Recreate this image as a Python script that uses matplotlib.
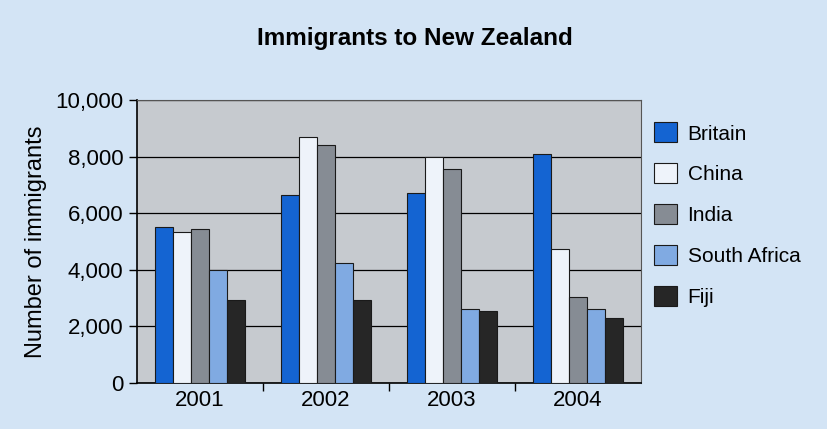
import numpy as np
import matplotlib
matplotlib.use('Agg')
from matplotlib import pyplot as plt

years = ['2001', '2002', '2003', '2004']
countries = ['Britain', 'China', 'India', 'South Africa', 'Fiji']
britain = [5500, 6650, 6700, 8100]
china = [5350, 8700, 8000, 4750]
india = [5450, 8400, 7550, 3050]
south_africa = [4000, 4250, 2600, 2600]
fiji = [2950, 2950, 2550, 2300]
series = [britain, china, india, south_africa, fiji]
colors = ['#1464d2', '#eef3fa', '#868c94', '#80aae2', '#262626']

plt.rcParams['font.family'] = ['Liberation Sans', 'DejaVu Sans']

fig = plt.figure(figsize=(8.28, 4.29), dpi=100)
fig.patch.set_facecolor('#d3e4f5')
ax = fig.add_axes([0.1655, 0.107, 0.6085, 0.66])
ax.set_facecolor('#c6cacf')

x = np.arange(len(years))
w = 0.144
for i, (vals, c) in enumerate(zip(series, colors)):
    ax.bar(x + (i - 2) * w, vals, w, color=c, edgecolor='#1a1a1a', linewidth=0.8,
           label=countries[i], zorder=3)

ax.set_xlim(-0.5, 3.5)
ax.set_ylim(0, 10000)
ax.set_yticks(range(0, 10001, 2000))
ax.set_yticklabels(['{:,}'.format(v) for v in range(0, 10001, 2000)], fontsize=16)
ax.yaxis.grid(True, color='black', linewidth=0.9, zorder=1)
ax.set_axisbelow(True)

# year labels in the middle, tick marks between the groups
ax.set_xticks(x)
ax.set_xticklabels(years, fontsize=16)
ax.tick_params(axis='x', length=0, pad=5)
ax.set_xticks([0.5, 1.5, 2.5], minor=True)
ax.tick_params(axis='x', which='minor', length=6, width=1, direction='out')
ax.tick_params(axis='y', length=6, width=1, direction='out', pad=4)

for s in ['left', 'bottom']:
    ax.spines[s].set_color('black')
    ax.spines[s].set_linewidth(1.2)
for s in ['top', 'right']:
    ax.spines[s].set_color('#555555')
    ax.spines[s].set_linewidth(0.8)

ax.set_ylabel('Number of immigrants', fontsize=17, labelpad=6)
fig.text(0.501, 0.911, 'Immigrants to New Zealand', ha='center', va='center',
         fontsize=17.5, fontweight='bold')

ax.legend(loc='upper left', bbox_to_anchor=(1.01, 0.95), frameon=False,
          fontsize=15, handlelength=1.1, handleheight=1.1, labelspacing=0.95,
          handletextpad=0.5, borderaxespad=0)

fig.savefig('out.png', dpi=100, facecolor=fig.get_facecolor())
